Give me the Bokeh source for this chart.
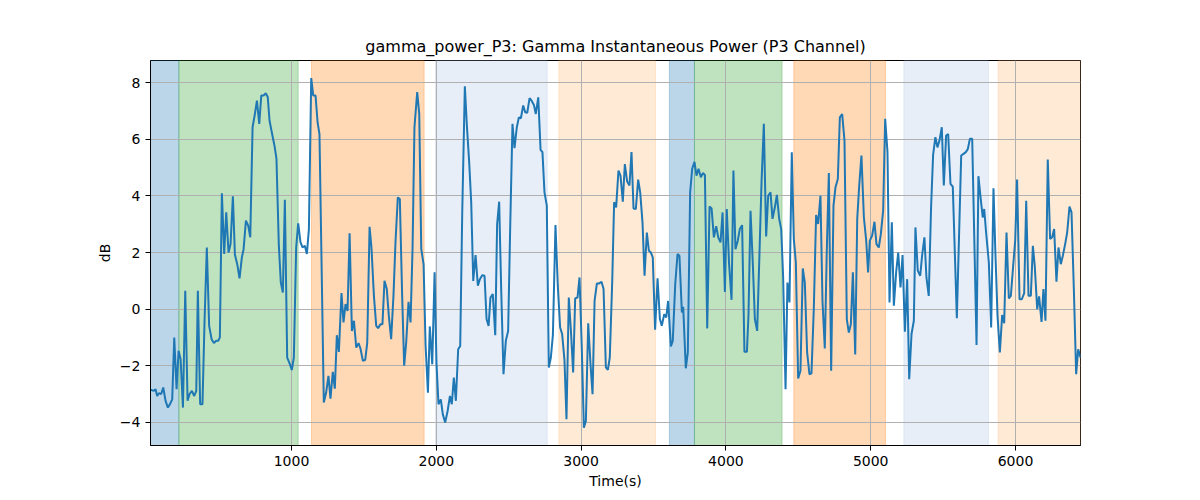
from bokeh.plotting import figure
from bokeh.models import BoxAnnotation, FixedTicker, Range1d
from bokeh.embed import file_html
from bokeh.resources import INLINE

# ---- data ----
time_s = [26, 49, 61, 72, 84, 100, 114, 130, 146, 160, 176, 190, 206, 220, 234, 250, 266, 282, 296, 312,
          328, 342, 353, 369, 385, 399, 415, 431, 448, 464, 480, 494, 505, 519, 535, 549, 565, 579, 595, 609,
          625, 641, 657, 669, 685, 701, 715, 731, 747, 761, 777, 791, 807, 823, 836,
          848, 866, 883, 896, 912, 926, 940, 954, 970, 986, 1002, 1016, 1032, 1046, 1062, 1076, 1092, 1106, 1120,
          1136, 1150, 1166, 1180, 1193, 1223, 1239, 1255, 1269, 1285, 1299, 1313, 1327, 1345, 1359, 1373, 1387,
          1401, 1417, 1431, 1447, 1463, 1476, 1493, 1509, 1523, 1539, 1552, 1569, 1585, 1598, 1615, 1628, 1642, 1658,
          1672, 1688, 1704, 1718, 1734, 1748, 1764, 1778, 1792, 1808, 1822, 1836, 1849, 1868, 1882, 1896, 1912,
          1926, 1942, 1955, 1972, 1988, 2001, 2015, 2031, 2045, 2061, 2078, 2094, 2107, 2121, 2135, 2151, 2165,
          2179, 2197, 2211, 2227, 2241, 2255, 2271, 2287, 2301, 2317, 2333, 2347, 2361, 2374, 2390, 2407, 2420,
          2434, 2448, 2464,
          2480, 2496, 2510, 2526, 2540, 2556, 2570, 2584, 2600, 2614, 2628, 2644, 2658, 2674, 2687, 2704, 2720,
          2733, 2747, 2763, 2777, 2791, 2805, 2823, 2839, 2855, 2869, 2885, 2899, 2915, 2929, 2945, 2959, 2975,
          2989, 3005, 3019, 3033, 3049, 3065, 3079, 3093, 3109, 3125, 3141, 3155, 3171, 3185, 3198, 3215, 3228,
          3242, 3258, 3272, 3288, 3302, 3318, 3334,
          3348, 3362, 3378, 3394, 3408, 3424, 3438, 3454, 3468, 3482, 3495, 3511, 3528, 3544, 3557, 3574, 3588,
          3601, 3620, 3633, 3650, 3666, 3679, 3696, 3705, 3723, 3737, 3753, 3767, 3783, 3797, 3811, 3827, 3841,
          3855, 3871, 3887, 3901, 3917, 3933, 3947, 3963, 3977, 3993, 4006, 4022, 4039, 4052, 4066, 4082, 4096,
          4112, 4128, 4145,
          4156, 4170, 4186, 4200, 4216, 4232, 4246, 4262, 4278, 4292, 4308, 4322, 4338, 4352, 4368, 4382, 4395,
          4412, 4425, 4439, 4455, 4469, 4483, 4499, 4515, 4531, 4545, 4561, 4577, 4591, 4607, 4623, 4637, 4653,
          4667, 4683, 4697, 4711, 4727, 4743, 4757, 4773, 4787, 4803, 4819, 4835, 4849, 4863, 4877, 4893, 4907,
          4920, 4936, 4953, 4969, 4982,
          4994, 5010, 5026, 5040, 5056, 5070, 5086, 5100, 5116, 5130, 5146, 5160, 5176, 5190, 5206, 5220, 5236,
          5252, 5266, 5282, 5298, 5309, 5325, 5342, 5355, 5371, 5385, 5401, 5417, 5431, 5447, 5461, 5475, 5491,
          5505, 5521, 5535, 5551, 5567, 5595, 5625, 5641, 5657, 5671, 5685, 5701, 5731, 5744, 5760, 5774, 5784,
          5797,
          5816, 5832, 5848, 5862, 5876, 5892, 5908, 5922, 5938, 5954, 5968, 5984, 5998, 6011, 6028, 6044, 6060,
          6074, 6090, 6106, 6120, 6133, 6150, 6163, 6180, 6193, 6207, 6223, 6239, 6253, 6267, 6283, 6297, 6313,
          6327, 6343, 6357, 6373, 6387, 6403, 6419, 6433, 6449]

power_db = [-2.85, -2.89, -2.83, -3.07, -2.97, -3.0, -2.77, -3.24, -3.48, -3.36, -3.19, -1.0, -2.83, -1.47, -1.77, -3.48, 0.65, -3.24, -3.0, -2.89,
            -3.07, -2.89, 0.65, -3.36, -3.36, -0.47, 2.18, -0.59, -1.06, -1.2, -1.12, -1.12, -1.0, 4.1, 1.95, 3.42, 2.0, 2.3, 3.99, 1.92,
            1.59, 1.09, 1.83, 2.12, 3.13, 2.95, 2.54, 6.43, 6.9, 7.37, 6.55, 7.55, 7.55, 7.63, 7.49,
            6.67, 6.19, 5.76, 5.31, 2.3, 0.94, 0.59, 3.87, -1.71, -1.91, -2.15, -1.71, 2.18, 3.03, 2.36, 2.18, 2.24, 1.95, 2.83,
            8.17, 7.55, 7.55, 6.6, 6.19, -3.3, -2.95, -2.36, -3.16, -2.22, -2.81, -0.92, -1.51, 0.57, -0.47, 0.18, -0.06,
            2.68, -0.77, -0.41, -1.36, -1.2, -1.39, -1.83, -1.79, -1.18, 2.91, 2.18, 0.47, -0.59, -0.67, -0.53, -0.53, 1.0, 0.71,
            -0.24, -1.06, 0.47, 2.36, 3.95, 3.89, 0.47, -2.0, -1.18, 0.26, -0.47, 2.18, 6.43, 7.67, 6.9, 2.12, 1.59,
            -1.3, -2.95, -0.61, -1.95, 1.3, -1.89, -3.36, -3.19, -3.72, -4.01, -3.6, -3.07, -3.36, -2.42, -3.24, -1.42, -1.3,
            3.42, 7.88, 6.49, 5.19, 3.78, 1.0, 1.91, 0.83, 1.06, 1.2, 1.18, -0.35, -0.59, 0.41, 0.53, -0.92, 3.01,
            3.8, 0.71, -2.3,
            -1.12, -0.77, 2.83, 6.55, 5.69, 6.43, 6.78, 6.75, 7.2, 6.96, 6.94, 7.46, 7.37, 7.22, 6.9, 7.49, 5.63,
            5.55, 4.13, 3.66, -2.06, -1.71, -0.92, 2.97, 0.83, -0.65, -0.88, -1.79, -3.89, 0.41, -0.71, -2.24, 0.38, 0.41,
            1.12, -1.42, -4.19, -3.95, -0.5, -1.95, -3.01, 0.29, 0.91, 0.91, 0.97, 0.71, -2.06, -2.15, -1.71, 1.0, 3.78,
            3.6, 4.9, 4.72, 3.8, 5.13, 4.51, 4.37,
            5.55, 3.56, 3.54, 4.58, 4.13, 3.07, 1.18, 2.71, 2.07, 2.0, 1.83, -0.73, 1.09, -0.35, -0.59, -0.18, -0.29,
            0.29, -1.32, -1.12, 0.88, 1.95, 1.89, -0.12, 0.08, -2.09, -1.53, 4.13, 4.96, 5.21, 4.72, 4.96, 4.66, 4.81,
            4.74, -0.68, 3.63, 3.56, 2.54, 2.93, 2.54, 2.36, 3.42, 0.61, 3.54, 1.59, 0.33, 4.9, 2.12, 2.42, 2.83,
            2.97, -1.51, -1.51,
            -0.2, 3.48, 1.59, -0.35, -0.77, 2.0, 4.48, 6.55, 2.57, 4.01, 4.13, 3.19, 3.6, 4.04, 3.19, 2.83, 1.18,
            -2.83, 0.94, 0.24, 5.55, 2.48, 1.65, -2.45, -2.18, 1.44, 0.94, -1.53, -2.3, -2.27, 0.0, 3.33, 3.01, 4.01,
            0.29, -1.39, 2.12, 4.81, -2.18, 3.66, 4.31, 4.6, 6.78, 6.9, 5.96, -0.35, -0.83, -0.53, 1.3, -1.6, 3.19,
            4.31, 5.43, 3.24, 2.42, 1.3,
            2.42, 2.6, 3.09, 2.3, 2.18, 2.65, 3.48, 6.73, 5.55, 0.24, 3.07, 0.12, 1.32, 2.0, 0.77, 1.91, -0.8,
            1.06, -2.48, -0.88, -0.41, 2.89, 1.36, 1.18, 1.89, 2.54, 1.12, 0.47, 3.6, 5.45, 6.08, 5.72, 5.96, 6.43,
            4.37, 6.14, 6.19, 4.43, 4.33, -0.32, 5.43, 5.49, 5.55, 5.66, 6.02, 6.02, -1.27, 4.7, 3.89, 3.24, 3.54,
            2.71,
            1.65, -0.65, 4.27, 1.89, -0.24, -1.53, -0.21, -0.5, 2.71, 0.38, 0.47, 1.53, 2.42, 4.58, 0.35, 0.35, 0.57,
            3.83, 0.47, 0.47, 2.24, 1.53, 0.0, 0.45, -0.45, 0.71, -0.41, 5.29, 2.48, 2.54, 2.83, 0.97, 2.18, 1.59,
            1.89, 2.3, 2.71, 3.63, 3.42, 0.71, -2.3, -1.42, -1.71]

span_start = [26, 222, 1138, 1994, 2846, 3610, 3783, 4469, 5229, 5880]
span_end = [222, 1046, 1916, 2766, 3514, 3783, 4388, 5102, 5813, 6449]
span_color = ["#1f77b4", "#2ca02c", "#ff7f0e", "#aec7e8", "#ffbb78",
              "#1f77b4", "#2ca02c", "#ff7f0e", "#aec7e8", "#ffbb78"]

x_ticks = [1000, 2000, 3000, 4000, 5000, 6000]
y_ticks = [-4, -2, 0, 2, 4, 6, 8]

FONT = "DejaVu Sans"

p = figure(width=1200, height=500, output_backend="svg", toolbar_location=None,
           x_range=Range1d(26, 6449), y_range=Range1d(-4.82, 8.79),
           title="gamma_power_P3: Gamma Instantaneous Power (P3 Channel)",
           min_border_left=150, min_border_right=120, min_border_top=60, min_border_bottom=55)

for s, e, c in zip(span_start, span_end, span_color):
    p.add_layout(BoxAnnotation(left=s, right=e, fill_color=c, fill_alpha=0.3,
                               line_color=c, line_alpha=0.3, line_width=1, level="image"))

p.line(time_s, power_db, line_color="#1f77b4", line_width=2)

p.title.align = "center"
p.title.text_font = FONT
p.title.text_font_size = "16px"
p.title.text_font_style = "normal"
p.title.text_color = "black"

p.xaxis.axis_label = "Time(s)"
p.yaxis.axis_label = "dB"
for ax in (p.xaxis, p.yaxis):
    ax.axis_label_text_font = FONT
    ax.axis_label_text_font_size = "14px"
    ax.axis_label_text_font_style = "normal"
    ax.axis_label_text_color = "black"
    ax.major_label_text_font = FONT
    ax.major_label_text_font_size = "14px"
    ax.major_label_text_color = "black"
    ax.major_tick_in = 0
    ax.major_tick_out = 5
    ax.minor_tick_in = 0
    ax.minor_tick_out = 0
    ax.axis_line_color = "black"
    ax.major_tick_line_color = "black"
    ax.axis_label_standoff = 4

p.xaxis.ticker = FixedTicker(ticks=x_ticks)
p.yaxis.ticker = FixedTicker(ticks=y_ticks)
p.yaxis.major_label_overrides = {t: ("\u2212" + str(-t) if t < 0 else str(t)) for t in y_ticks}

p.xgrid.ticker = FixedTicker(ticks=x_ticks)
p.ygrid.ticker = FixedTicker(ticks=y_ticks)
p.grid.grid_line_color = "#b0b0b0"
p.grid.grid_line_width = 1

p.outline_line_color = "black"
p.outline_line_alpha = 1
p.outline_line_width = 1
p.background_fill_color = "white"
p.border_fill_color = "white"

open("out.html", "w").write(file_html(p, INLINE))
